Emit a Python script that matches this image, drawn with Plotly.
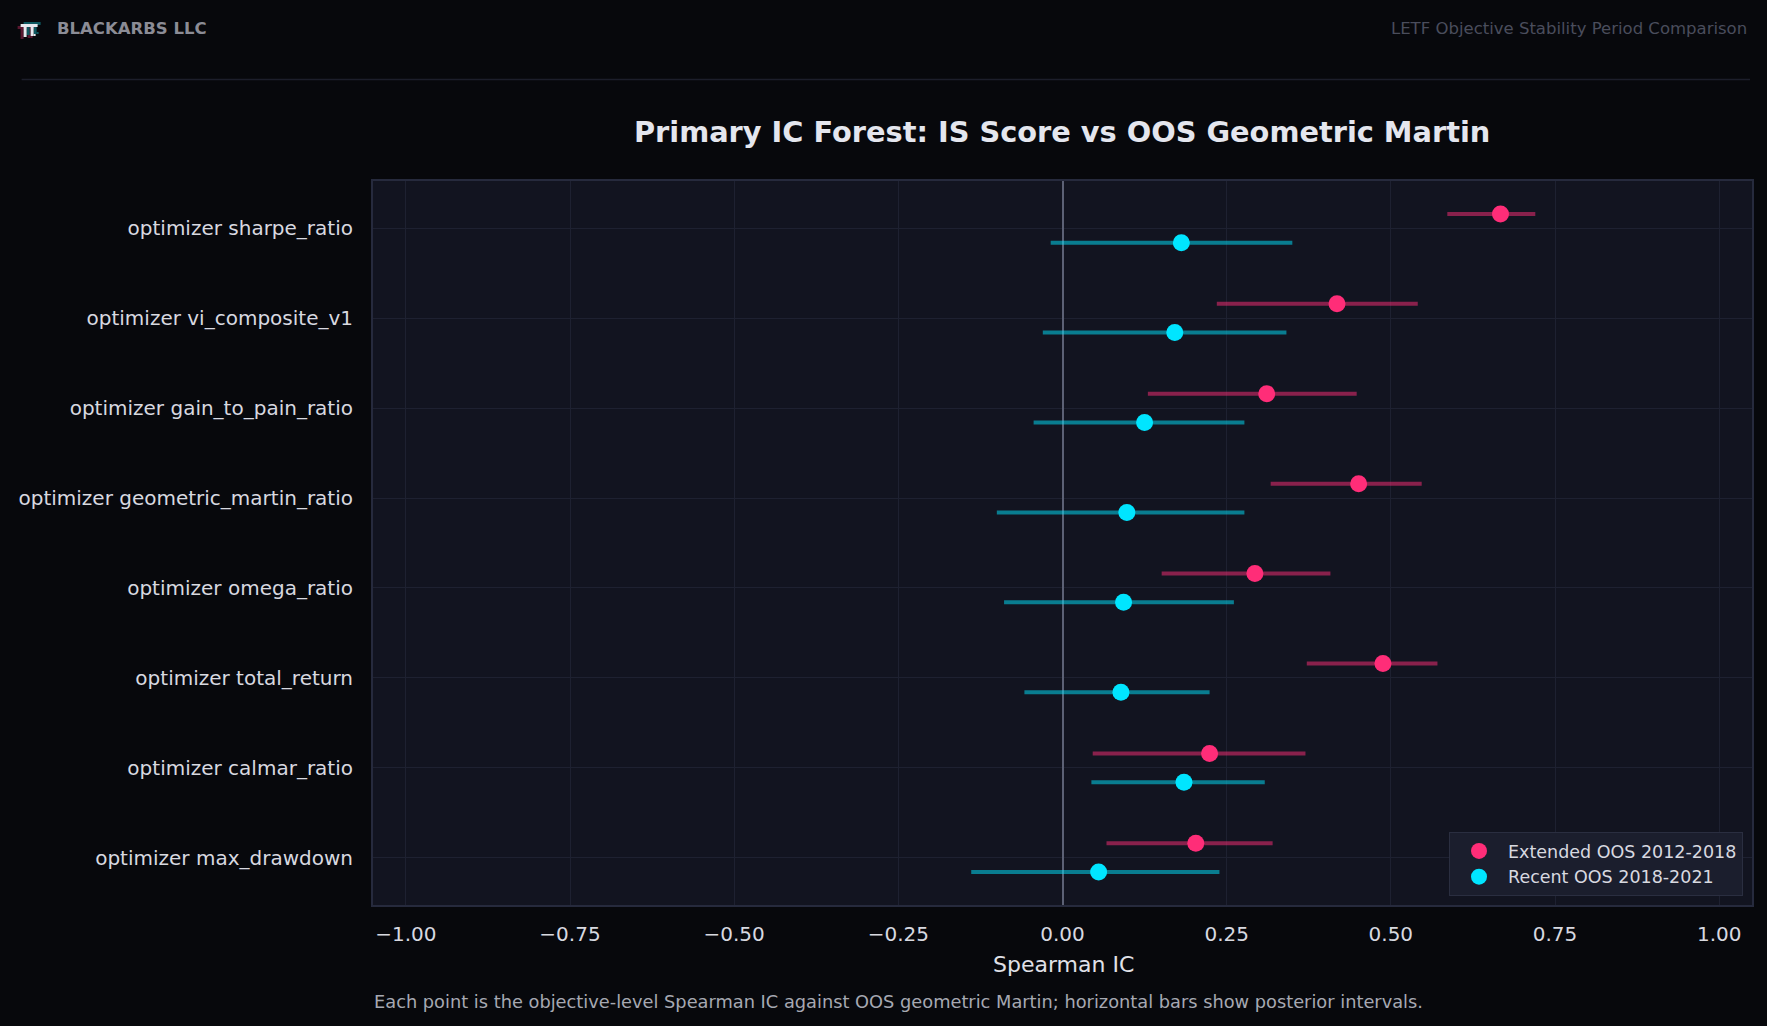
import plotly.graph_objects as go

# ---------------- data ----------------
objectives = [
    "optimizer sharpe_ratio",
    "optimizer vi_composite_v1",
    "optimizer gain_to_pain_ratio",
    "optimizer geometric_martin_ratio",
    "optimizer omega_ratio",
    "optimizer total_return",
    "optimizer calmar_ratio",
    "optimizer max_drawdown",
]
ext_ic = [0.667, 0.418, 0.311, 0.451, 0.293, 0.488, 0.224, 0.203]
ext_lo = [0.586, 0.235, 0.130, 0.317, 0.151, 0.372, 0.046, 0.067]
ext_hi = [0.720, 0.541, 0.448, 0.547, 0.408, 0.571, 0.370, 0.320]
rec_ic = [0.181, 0.171, 0.125, 0.098, 0.093, 0.089, 0.185, 0.055]
rec_lo = [-0.018, -0.030, -0.044, -0.100, -0.089, -0.058, 0.044, -0.139]
rec_hi = [0.350, 0.341, 0.277, 0.277, 0.261, 0.224, 0.308, 0.239]
series_names = ["Extended OOS 2012-2018", "Recent OOS 2018-2021"]
x_ticks = [-1.0, -0.75, -0.5, -0.25, 0.0, 0.25, 0.5, 0.75, 1.0]
x_ticktext = ["−1.00", "−0.75", "−0.50", "−0.25", "0.00", "0.25", "0.50", "0.75", "1.00"]

# ---------------- style ----------------
W, H = 1767, 1026
PL, PR, PT, PB = 372.5, 1752, 181, 905
FONT = "DejaVu Sans"
PAGE_BG = "#07080c"
PLOT_BG = "#121420"
GRID = "#1e2131"
FRAME = "#262a3d"
PINK = "#ff2d78"
CYAN = "#00e5ff"
OFF = 0.16


def px_x(px):
    return (px - PL) / (PR - PL)


def px_y(py):
    return (PB - py) / (PB - PT)


idx = list(range(len(objectives)))
fig = go.Figure()

fig.add_trace(go.Scatter(
    x=ext_ic, y=[i - OFF for i in idx], mode="markers", name=series_names[0],
    marker=dict(size=17, color=PINK, line=dict(width=0)),
    error_x=dict(type="data", symmetric=False,
                 array=[h - v for h, v in zip(ext_hi, ext_ic)],
                 arrayminus=[v - l for v, l in zip(ext_ic, ext_lo)],
                 color="rgba(255,45,120,0.5)", thickness=4, width=0),
))
fig.add_trace(go.Scatter(
    x=rec_ic, y=[i + OFF for i in idx], mode="markers", name=series_names[1],
    marker=dict(size=17, color=CYAN, line=dict(width=0)),
    error_x=dict(type="data", symmetric=False,
                 array=[h - v for h, v in zip(rec_hi, rec_ic)],
                 arrayminus=[v - l for v, l in zip(rec_ic, rec_lo)],
                 color="rgba(0,229,255,0.5)", thickness=4, width=0),
))

fig.update_layout(
    width=W, height=H, autosize=False,
    margin=dict(l=PL, r=W - PR, t=PT, b=H - PB, pad=0),
    paper_bgcolor=PAGE_BG, plot_bgcolor=PLOT_BG,
    font=dict(family=FONT, color="#d8d9e0", size=20),
    showlegend=True,
    legend=dict(
        x=px_x(1743), y=px_y(896), xanchor="right", yanchor="bottom",
        bgcolor="#1b1e2d", bordercolor="#2a2e40", borderwidth=1,
        font=dict(size=17.5, color="#d8d9e0", family=FONT),
        tracegroupgap=0, itemwidth=48,
    ),
    xaxis=dict(
        range=[-1.05, 1.05], tickvals=x_ticks, ticktext=x_ticktext,
        showgrid=True, gridcolor=GRID, gridwidth=1,
        zeroline=True, zerolinecolor="#5c6175", zerolinewidth=2,
        showline=True, linecolor=FRAME, linewidth=2, mirror=True,
        ticks="outside", ticklen=0, tickcolor="rgba(0,0,0,0)",
        ticklabelstandoff=10,
        tickfont=dict(size=20, color="#d8d9e0"),
    ),
    yaxis=dict(
        range=[len(objectives) - 1 + 0.526, -0.526],
        tickvals=idx, ticktext=objectives,
        showgrid=True, gridcolor=GRID, gridwidth=1, zeroline=False,
        showline=True, linecolor=FRAME, linewidth=2, mirror=True,
        ticks="outside", ticklen=0, tickcolor="rgba(0,0,0,0)",
        ticklabelstandoff=14,
        tickfont=dict(size=20, color="#d8d9e0"),
    ),
)

ann = []
# title
ann.append(dict(text="<b>Primary IC Forest: IS Score vs OOS Geometric Martin</b>",
                x=px_x(1062), y=px_y(132), xref="paper", yref="paper",
                xanchor="center", yanchor="middle", showarrow=False,
                font=dict(size=28.8, color="#e4e6ee", family=FONT)))
# x axis title
ann.append(dict(text="Spearman IC", x=px_x(1063), y=px_y(964), xref="paper", yref="paper",
                xanchor="center", yanchor="middle", showarrow=False,
                font=dict(size=22, color="#e0e1e8", family=FONT)))
# caption
ann.append(dict(text="Each point is the objective-level Spearman IC against OOS geometric Martin; "
                     "horizontal bars show posterior intervals.",
                x=px_x(371), y=px_y(1001), xref="paper", yref="paper",
                xanchor="left", yanchor="middle", showarrow=False,
                font=dict(size=17.8, color="#a6a8b2", family=FONT)))
# header
ann.append(dict(text="<b>BLACKARBS LLC</b>", x=px_x(54), y=px_y(28), xref="paper", yref="paper",
                xanchor="left", yanchor="middle", showarrow=False,
                font=dict(size=16.5, color="#8b8c96", family=FONT)))
ann.append(dict(text="LETF Objective Stability Period Comparison", x=px_x(1749), y=px_y(28),
                xref="paper", yref="paper", xanchor="right", yanchor="middle", showarrow=False,
                font=dict(size=16.5, color="#4a4d5c", family=FONT)))
fig.update_layout(annotations=ann)

# logo: layered pi glyph drawn with shapes (pink offset, teal offset, white front)
def pi_shapes(ox, oy, col):
    parts = [
        (20, 24, 37, 27),   # top bar
        (23, 27, 26, 37),   # left leg
        (30, 27, 33, 36),   # right leg
        (33, 34, 35, 36),   # right foot
    ]
    out = []
    for x0, y0, x1, y1 in parts:
        out.append(dict(type="rect", xref="paper", yref="paper",
                        x0=px_x(x0 + ox), x1=px_x(x1 + ox),
                        y0=px_y(y1 + oy), y1=px_y(y0 + oy),
                        fillcolor=col, line=dict(width=0), layer="above"))
    return out


shapes = []
shapes += pi_shapes(-3, 2, "#5a1730")
shapes += pi_shapes(3, -2, "#0e5860")
shapes += pi_shapes(0, 0, "#e6e8ee")
shapes.append(dict(type="line", xref="paper", yref="paper",
                   x0=px_x(21), x1=px_x(1750), y0=px_y(79.5), y1=px_y(79.5),
                   line=dict(color="#1c1e2b", width=1.5), layer="above"))
fig.update_layout(shapes=shapes)

fig.write_html("out.html")
